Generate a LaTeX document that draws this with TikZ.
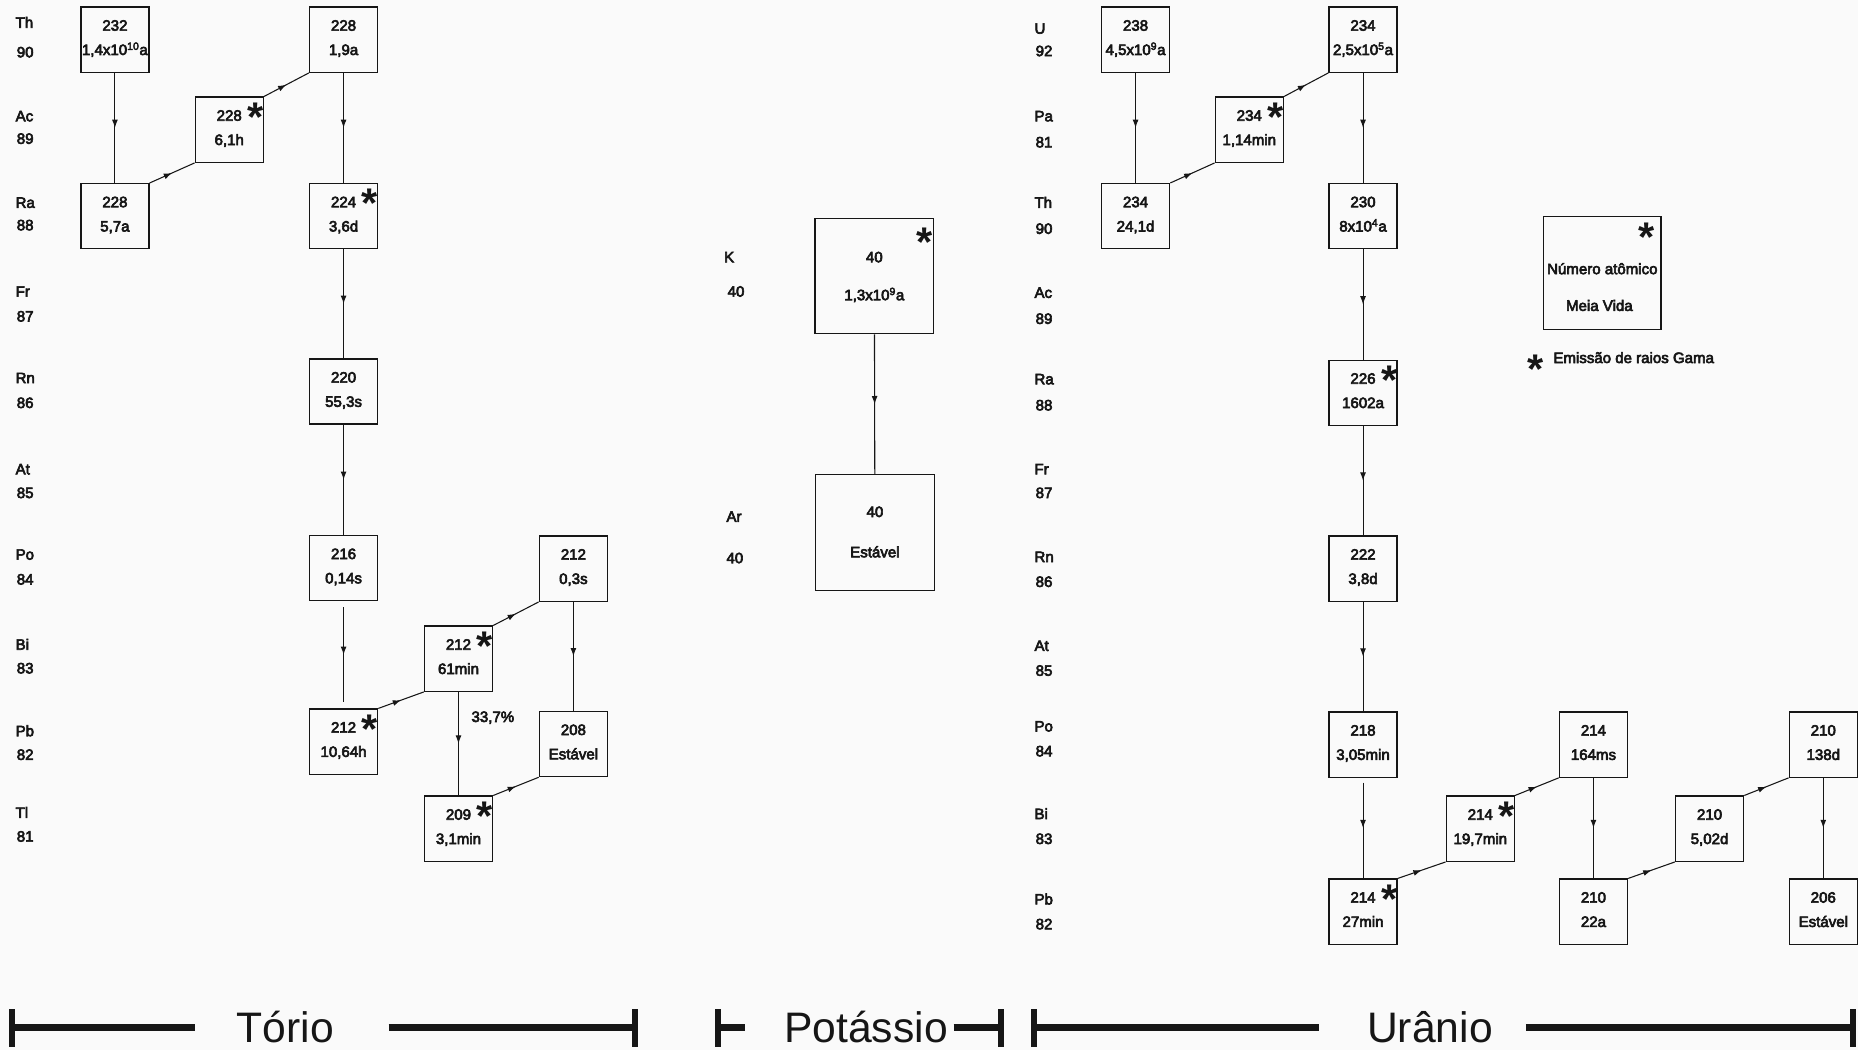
\documentclass[tikz,border=0pt]{standalone}
\usepackage{fontspec}
\setmainfont{Liberation Sans}
\newfontfamily\medfont{Liberation Sans}[FakeBold=4]
\newfontfamily\astfont{Liberation Sans Bold}
\usetikzlibrary{arrows.meta,decorations.markings}
\definecolor{bg}{RGB}{250,250,250}
\definecolor{ink}{RGB}{22,22,22}
\tikzset{
  iso/.style={draw=ink, line width=1.1pt, minimum width=57.5pt, minimum height=55pt, inner sep=0pt},
  bigiso/.style={iso, minimum width=100pt, minimum height=97.5pt},
  txt/.style={inner sep=0pt, font=\medfont\fontsize{12.7}{15}\selectfont, text height=9.2pt, text depth=2.4pt, text=ink},
  lbl/.style={txt, anchor=west},
  ast/.style={inner sep=0pt, anchor=base, font=\astfont\fontsize{35}{35}\selectfont, text=ink},
  decay/.style={draw=ink, line width=0.9pt, postaction={decorate},
    decoration={markings, mark=at position 0.5 with {\arrow{Latex[length=7pt,width=5pt]}}}},
  series/.style={font=\fontsize{36}{36}\selectfont, inner sep=0pt, anchor=base, text=ink},
  bar/.style={line width=6pt, draw=ink},
  tickmark/.style={line width=5pt, draw=ink},
}
% name, x, y, top line, bottom line
\newcommand{\isobox}[5]{%
  \node[iso] (#1) at (#2,#3) {};
  \node[txt] (#1-a) at ([yshift=11pt]#1.center) {#4};
  \node[txt] (#1-b) at ([yshift=-9.5pt]#1.center) {#5};
}
\newcommand{\gam}[1]{\node[ast] (#1-g) at ([xshift=-7pt,yshift=-29.5pt]#1.north east) {*};}
\newcommand{\elem}[6]{% name, x, y sym, sym, y num, num
  \node[lbl] (#1) at (#2,#3) {#4};
  \node[lbl] (#1-z) at (#2+1,#5) {#6};
}
\begin{document}
\begin{tikzpicture}[x=1pt,y=-1pt]
\path[fill=bg] (0,0) rectangle (1568,886);

% ---------- Thorium series: element labels ----------
\elem{tTh}{13}{20}{Th}{45}{90}
\elem{tAc}{13}{99}{Ac}{118}{89}
\elem{tRa}{13}{172}{Ra}{191}{88}
\elem{tFr}{13}{247}{Fr}{268}{87}
\elem{tRn}{13}{320}{Rn}{341}{86}
\elem{tAt}{13}{397}{At}{417}{85}
\elem{tPo}{13}{469}{Po}{490}{84}
\elem{tBi}{13}{545}{Bi}{565}{83}
\elem{tPb}{13}{618}{Pb}{638}{82}
\elem{tTl}{13}{687}{Tl}{707}{81}

% ---------- Thorium series: boxes ----------
\isobox{th232}{97}{33.5}{232}{1,4x10\textsuperscript{10}a}
\isobox{ac228}{193.5}{109.5}{228}{6,1h}\gam{ac228}
\isobox{th228}{290}{33.5}{228}{1,9a}
\isobox{ra228}{97}{182.5}{228}{5,7a}
\isobox{ra224}{290}{182.5}{224}{3,6d}\gam{ra224}
\isobox{rn220}{290}{330.5}{220}{55,3s}
\isobox{po216}{290}{479.5}{216}{0,14s}
\isobox{pb212}{290}{626}{212}{10,64h}\gam{pb212}
\isobox{bi212}{387}{556}{212}{61min}\gam{bi212}
\isobox{po212}{484}{480}{212}{0,3s}
\isobox{tl209}{387}{699.5}{209}{3,1min}\gam{tl209}
\isobox{pb208}{484}{628}{208}{Estável}
\node[txt] (pct) at (416,606) {33,7\%};

\draw[decay] (th232) -- (ra228);
\draw[decay] (ra228.north east) -- (ac228.south west);
\draw[decay] (ac228.north east) -- (th228.south west);
\draw[decay] (th228) -- (ra224);
\draw[decay] (ra224) -- (rn220);
\draw[decay] (rn220) -- (po216);
\draw[decay, shorten <=5pt, shorten >=5pt] (po216) -- (pb212);
\draw[decay] (pb212.north east) -- (bi212.south west);
\draw[decay] (bi212.north east) -- (po212.south west);
\draw[decay] (bi212) -- (tl209);
\draw[decay] (po212) -- (pb208);
\draw[decay] (tl209.north east) -- (pb208.south west);

% ---------- Potassium ----------
\node[lbl] (kK) at (611,218) {K};
\node[lbl] (kK-z) at (614,247) {40};
\node[lbl] (kAr) at (613,437) {Ar};
\node[lbl] (kAr-z) at (613,472) {40};
\node[bigiso] (k40) at (738,233) {};
\node[txt] (k40-a) at ([yshift=15pt]k40.center) {40};
\node[txt] (k40-b) at ([yshift=-17pt]k40.center) {1,3x10\textsuperscript{9}a};
\node[ast] (k40-g) at ([xshift=-8pt,yshift=-32.5pt]k40.north east) {*};
\node[bigiso] (ar40) at (738.5,449.5) {};
\node[txt] (ar40-a) at ([yshift=16.5pt]ar40.center) {40};
\node[txt] (ar40-b) at ([yshift=-17.5pt]ar40.center) {Estável};
\draw[decay] (k40) -- (ar40);

% ---------- Uranium series: element labels ----------
\elem{uU}{873}{25}{U}{44}{92}
\elem{uPa}{873}{99}{Pa}{121}{81}
\elem{uTh}{873}{172}{Th}{194}{90}
\elem{uAc}{873}{248}{Ac}{270}{89}
\elem{uRa}{873}{321}{Ra}{343}{88}
\elem{uFr}{873}{397}{Fr}{417}{87}
\elem{uRn}{873}{471}{Rn}{492}{86}
\elem{uAt}{873}{546}{At}{567}{85}
\elem{uPo}{873}{614}{Po}{635}{84}
\elem{uBi}{873}{688}{Bi}{709}{83}
\elem{uPb}{873}{760}{Pb}{781}{82}

% ---------- Uranium series: boxes ----------
\isobox{u238}{958.5}{33.5}{238}{4,5x10\textsuperscript{9}a}
\isobox{pa234}{1054.5}{109.5}{234}{1,14min}\gam{pa234}
\isobox{u234}{1150.5}{33.5}{234}{2,5x10\textsuperscript{5}a}
\isobox{th234}{958.5}{182.5}{234}{24,1d}
\isobox{th230}{1150.5}{182.5}{230}{8x10\textsuperscript{4}a}
\isobox{ra226}{1150.5}{331.5}{226}{1602a}\gam{ra226}
\isobox{rn222}{1150.5}{480}{222}{3,8d}
\isobox{po218}{1150.5}{628.5}{218}{3,05min}
\isobox{pb214}{1150.5}{769.5}{214}{27min}\gam{pb214}
\isobox{bi214}{1249.5}{699.5}{214}{19,7min}\gam{bi214}
\isobox{po214}{1345}{628.5}{214}{164ms}
\isobox{pb210}{1345}{769.5}{210}{22a}
\isobox{bi210}{1443}{699.5}{210}{5,02d}
\isobox{po210}{1539}{628.5}{210}{138d}
\isobox{pb206}{1539}{769.5}{206}{Estável}

\draw[decay] (u238) -- (th234);
\draw[decay] (th234.north east) -- (pa234.south west);
\draw[decay] (pa234.north east) -- (u234.south west);
\draw[decay] (u234) -- (th230);
\draw[decay] (th230) -- (ra226);
\draw[decay] (ra226) -- (rn222);
\draw[decay] (rn222) -- (po218);
\draw[decay, shorten <=4pt] (po218) -- (pb214);
\draw[decay] (pb214.north east) -- (bi214.south west);
\draw[decay] (bi214.north east) -- (po214.south west);
\draw[decay] (po214) -- (pb210);
\draw[decay] (pb210.north east) -- (bi210.south west);
\draw[decay] (bi210.north east) -- (po210.south west);
\draw[decay] (po210) -- (pb206);

% ---------- Legend ----------
\node[iso, minimum width=99pt, minimum height=95pt] (leg) at (1352.5,230.5) {};
\node[txt] (leg-a) at (1352.5,228) {Número atômico};
\node[txt] (leg-b) at (1350,259) {Meia Vida};
\node[ast] (leg-g) at (1390,212.5) {*};
\node[ast] (gam-g) at (1296,323.5) {*};
\node[lbl] (gam-t) at (1311,303) {Emissão de raios Gama};

% ---------- Series ranges ----------
\node[series] (torio) at (241,880) {Tório};
\draw[tickmark] (10,852) -- (10,884);
\draw[bar] (10,867) -- (165,867);
\draw[bar] (328,867) -- (536,867);
\draw[tickmark] (536,852) -- (536,884);

\node[series] (potassio) at (731,880) {Potássio};
\draw[tickmark] (606,852) -- (606,884);
\draw[bar] (606,867) -- (629,867);
\draw[bar] (805,867) -- (845,867);
\draw[tickmark] (845,852) -- (845,884);

\node[series] (uranio) at (1207,880) {Urânio};
\draw[tickmark] (873,852) -- (873,884);
\draw[bar] (873,867) -- (1113,867);
\draw[bar] (1288,867) -- (1563,867);
\draw[tickmark] (1564,852) -- (1564,884);
\end{tikzpicture}
\end{document}
